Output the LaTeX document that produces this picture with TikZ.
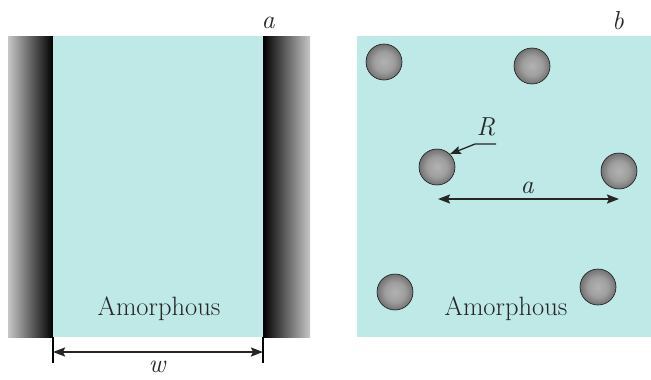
\documentclass[tikz,border=0pt]{standalone}
\usetikzlibrary{arrows.meta}
\definecolor{amcyan}{HTML}{BEE9E6}
\definecolor{ink}{HTML}{262626}
\pgfdeclareradialshading{sphere}{\pgfpoint{0bp}{0bp}}{color(0bp)=(black!30); color(14bp)=(black!38); color(28bp)=(black!60); color(38bp)=(black!80); color(46bp)=(black!92); color(50bp)=(black!96)}
\tikzset{
  panel/.style={fill=amcyan, draw=none},
  ball/.style={circle, minimum size=36pt, inner sep=0pt, shading=sphere, draw=black!90, line width=0.6pt},
  bigtext/.style={text=ink, font=\fontsize{26.5}{30}\selectfont, inner sep=0pt, anchor=base},
  lbl/.style={text=ink, font=\fontsize{26}{30}\selectfont\itshape, inner sep=0pt, anchor=base},
  dim/.style={draw=ink, line width=1.8pt, {Stealth[length=12pt,width=9pt,inset=2pt]}-{Stealth[length=12pt,width=9pt,inset=2pt]}},
  tick/.style={draw=black, line width=1.2pt}
}
\begin{document}
\begin{tikzpicture}[x=1pt, y=-1pt]
\useasboundingbox (0,0) rectangle (651,380);
% panel a
\fill[left color=black!22, right color=black] (8,36) rectangle (53,337);
\fill[left color=black, right color=black!22] (263,36) rectangle (310,337);
\fill[panel] (53,36) rectangle (263,337);
\coordinate (wl) at (53,352);
\coordinate (wr) at (263,352);
\draw[tick] (53,337) -- (53,363);
\draw[tick] (263,337) -- (263,363);
\draw[dim] (wl) -- (wr);
\node[bigtext] (amA) at (159,315) {Amorphous};
\node[lbl] (labA) at (268,28) {a};
\node[lbl] (labW) at (157,372) {w};
% panel b
\fill[panel] (357,36) rectangle (651,337);
\node[ball] (b1) at (384,62) {};
\node[ball] (b2) at (532,66) {};
\node[ball] (b3) at (437,167) {};
\node[ball] (b4) at (619,171) {};
\node[ball] (b5) at (395,292) {};
\node[ball] (b6) at (598,287) {};
\node[bigtext] (amB) at (506,315) {Amorphous};
\node[lbl] (labB) at (618,29) {b};
\node[lbl] (labR) at (486,135) {R};
\node[lbl] (labAa) at (527,193) {a};
\coordinate (rend) at (496,144);
\coordinate (rknee) at (475,144);
\draw[draw=ink, line width=1.3pt, -{Stealth[length=11pt,width=8pt,inset=2pt]}] (rend) -- (rknee) -- (b3.north east);
\coordinate (al) at (438,199);
\coordinate (ar) at (619,199);
\draw[dim] (al) -- (ar);
\end{tikzpicture}
\end{document}
